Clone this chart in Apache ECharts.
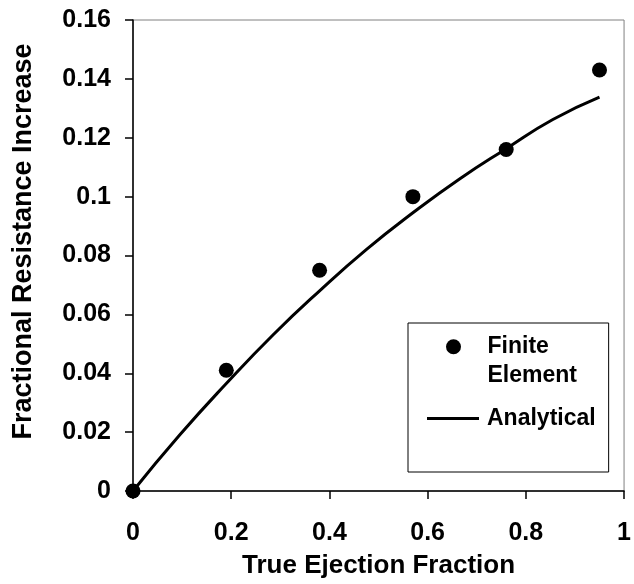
<!DOCTYPE html>
<html>
<head>
<meta charset="utf-8">
<script src="https://cdn.jsdelivr.net/npm/echarts@6/dist/echarts.min.js"></script>
<style>
  html, body { margin: 0; padding: 0; background: #ffffff; }
  #chart { width: 634px; height: 584px; }
</style>
</head>
<body>
<div id="chart"></div>
<script>
// Finite element results
const feX = [0, 0.19, 0.38, 0.57, 0.76, 0.95];
const feY = [0, 0.041, 0.075, 0.100, 0.116, 0.143];
// Analytical curve
const anX = [0, 0.095, 0.19, 0.285, 0.38, 0.475, 0.57, 0.665, 0.76, 0.855, 0.95];
const anY = [0, 0.019, 0.0365, 0.053, 0.068, 0.082, 0.0945, 0.106, 0.1163, 0.1262, 0.1338];
// Axes
const xTicks = { min: 0, max: 1, interval: 0.2 };
const yTicks = { min: 0, max: 0.16, interval: 0.02 };
const seriesNames = ['Finite Element', 'Analytical'];
const xTitle = 'True Ejection Fraction';
const yTitle = 'Fractional Resistance Increase';

const font = '"Liberation Sans", Arial, sans-serif';

const chart = echarts.init(document.getElementById('chart'), null, { renderer: 'canvas' });
chart.setOption({
  animation: false,
  backgroundColor: '#ffffff',
  grid: {
    left: 133, right: 2, top: 20, bottom: 91,
    show: true, borderColor: '#808080', borderWidth: 1, backgroundColor: 'transparent'
  },
  xAxis: {
    type: 'value', min: xTicks.min, max: xTicks.max, interval: xTicks.interval,
    name: xTitle, nameLocation: 'middle', nameGap: 62,
    nameTextStyle: { fontFamily: font, fontWeight: 'bold', fontSize: 26, color: '#000' },
    axisLine: { show: true, onZero: false, lineStyle: { color: '#000', width: 1.5 } },
    axisTick: { show: true, inside: false, length: 8, lineStyle: { color: '#000', width: 1.5 } },
    axisLabel: { margin: 30, fontFamily: font, fontWeight: 'bold', fontSize: 25, color: '#000' },
    splitLine: { show: false }
  },
  yAxis: {
    type: 'value', min: yTicks.min, max: yTicks.max, interval: yTicks.interval,
    name: yTitle, nameLocation: 'middle', nameGap: 96, nameRotate: 90,
    nameTextStyle: { fontFamily: font, fontWeight: 'bold', fontSize: 27, color: '#000', padding: [0, 0, 0, 28] },
    axisLine: { show: true, onZero: false, lineStyle: { color: '#000', width: 1.5 } },
    axisTick: { show: true, inside: false, length: 8, lineStyle: { color: '#000', width: 1.5 } },
    axisLabel: { margin: 22, fontFamily: font, fontWeight: 'bold', fontSize: 25, color: '#000' },
    splitLine: { show: false }
  },
  legend: [
    {
      data: [{ name: seriesNames[1], icon: 'rect' }],
      orient: 'vertical', left: 408, top: 323,
      padding: [82, 13, 40, 19],
      itemWidth: 52, itemHeight: 3,
      backgroundColor: '#ffffff', borderColor: '#000', borderWidth: 1,
      selectedMode: false, z: 4,
      itemStyle: { color: '#000' },
      textStyle: { fontFamily: font, fontWeight: 'bold', fontSize: 23, color: '#000', lineHeight: 27, padding: [0, 0, 0, 3] }
    },
    {
      data: [{ name: seriesNames[0], icon: 'circle' }],
      orient: 'vertical', left: 446, top: 304,
      padding: 0,
      itemWidth: 52, itemHeight: 15,
      selectedMode: false, z: 6,
      itemStyle: { color: '#000' },
      formatter: function (name) { return name === seriesNames[0] ? '{g| }\n{t|Finite}\n{t|Element}' : name; },
      textStyle: {
        fontFamily: font, fontWeight: 'bold', fontSize: 23, color: '#000', padding: [0, 0, 0, 3],
        rich: {
          g: { fontFamily: font, fontSize: 23, lineHeight: 28.5, height: 28.5 },
          t: { fontFamily: font, fontWeight: 'bold', fontSize: 23, lineHeight: 28.5, color: '#000' }
        }
      }
    }
  ],
  series: [
    {
      name: seriesNames[1], type: 'line',
      data: anX.map((x, i) => [x, anY[i]]),
      smooth: 0.5, symbol: 'none',
      lineStyle: { color: '#000', width: 3 },
      itemStyle: { color: '#000' },
      z: 2
    },
    {
      name: seriesNames[0], type: 'scatter',
      data: feX.map((x, i) => [x, feY[i]]),
      symbol: 'circle', symbolSize: 15, clip: false,
      itemStyle: { color: '#000', opacity: 1 },
      z: 3
    }
  ]
});
</script>
</body>
</html>
